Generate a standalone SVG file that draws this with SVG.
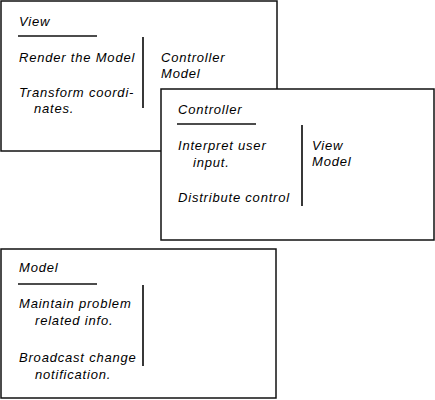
<svg xmlns="http://www.w3.org/2000/svg" width="435" height="400" viewBox="0 0 435 400">
<style>
.box{fill:#fff;stroke:#111;stroke-width:1.5}
.rule{stroke:#111;stroke-width:1.5;fill:none}
.div{stroke:#222;stroke-width:1.8;fill:none}
text{font-family:"Liberation Sans",Arial,sans-serif;font-style:italic;font-size:13px;letter-spacing:0.8px;fill:#000}
</style>
<rect width="435" height="400" fill="#fff"/>
<g id="view">
<rect class="box" x="1" y="1" width="276" height="150"/>
<text x="19" y="26">View</text>
<line class="rule" x1="18" y1="36" x2="97" y2="36"/>
<text x="19" y="62">Render the Model</text>
<text x="19" y="97">Transform coordi-</text>
<text x="34" y="113">nates.</text>
<line class="div" x1="143" y1="37" x2="143" y2="108"/>
<text x="161" y="62">Controller</text>
<text x="161" y="78">Model</text>
</g>
<g id="model">
<rect class="box" x="1" y="249" width="275" height="149"/>
<text x="19" y="272">Model</text>
<line class="rule" x1="18" y1="284" x2="97" y2="284"/>
<text x="19" y="308">Maintain problem</text>
<text x="35" y="325">related info.</text>
<text x="19" y="362">Broadcast change</text>
<text x="35" y="379">notification.</text>
<line class="div" x1="143" y1="285" x2="143" y2="366"/>
</g>
<g id="controller">
<rect class="box" x="161" y="89" width="273" height="151"/>
<text x="178" y="114">Controller</text>
<line class="rule" x1="177" y1="124" x2="256" y2="124"/>
<text x="178" y="150">Interpret user</text>
<text x="193" y="167">input.</text>
<text x="178" y="202">Distribute control</text>
<line class="div" x1="302" y1="125" x2="302" y2="206"/>
<text x="312" y="150">View</text>
<text x="312" y="166">Model</text>
</g>
<g id="connectors"></g>
</svg>
